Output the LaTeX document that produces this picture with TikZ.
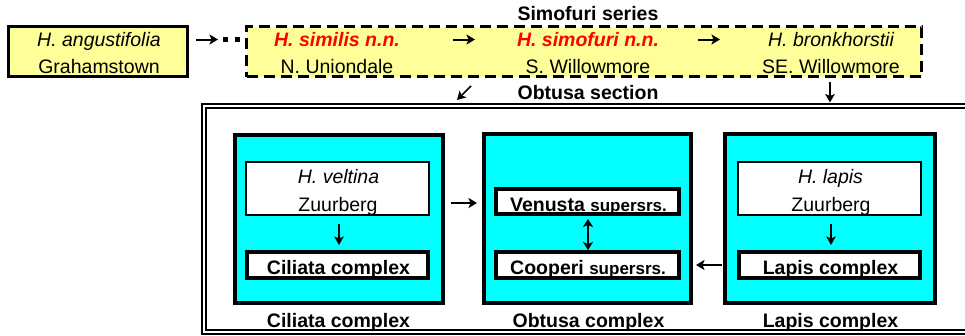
\documentclass[tikz,border=0pt]{standalone}
\usepackage{fontspec}
\setmainfont{Liberation Sans}
\usetikzlibrary{arrows.meta}
\definecolor{paleyellow}{HTML}{FFFF99}
\definecolor{brightcyan}{HTML}{00FFFF}
\definecolor{brightred}{HTML}{FF0000}
\begin{document}
\begin{tikzpicture}[x=1pt,y=-1pt,
  every node/.style={inner sep=0pt, outer sep=0pt},
  tx/.style={font=\fontsize{19.5}{24}\selectfont, anchor=base},
  txi/.style={font=\fontsize{19.5}{24}\selectfont\itshape, anchor=base},
  txb/.style={font=\fontsize{19.5}{24}\selectfont\bfseries, anchor=base},
  txr/.style={font=\fontsize{19.5}{24}\selectfont\bfseries\itshape, text=brightred, anchor=base},
  ybox/.style={draw, line width=2.5pt, fill=paleyellow},
  dbox/.style={draw, line width=3pt, fill=paleyellow, dash pattern=on 11pt off 6pt},
  cbox/.style={draw, line width=4pt, fill=brightcyan},
  wbox/.style={draw, line width=1.5pt, fill=white},
  wboxb/.style={draw, line width=3.5pt, fill=white},
  frame/.style={draw, line width=2pt, double, double distance=2pt},
  arr/.style={line width=2pt, -{Stealth[length=8.5pt,width=10pt,inset=2pt]}},
  arrthin/.style={line width=1.7pt, -{Stealth[length=8.5pt,width=9.5pt,inset=2pt]}},
  arrboth/.style={line width=2pt, {Stealth[length=8pt,width=10pt,inset=2pt]}-{Stealth[length=8pt,width=10pt,inset=2pt]}},
  dotline/.style={line width=5pt, dash pattern=on 5pt off 7pt}
]
\useasboundingbox (0,0) rectangle (965,335);
\clip (0,0) rectangle (965,335);

% top row
\node[ybox, minimum width=179pt, minimum height=50pt] (ang) at (98,51.5) {};
\node[txi] (angA) at (99,46.5) {H. angustifolia};
\node[tx] (angB) at (99,73.5) {Grahamstown};

\node[dbox, minimum width=675pt, minimum height=50pt] (ser) at (584,51.5) {};
\node[txr] (simA) at (337,46.5) {H. similis n.n.};
\node[tx] (simB) at (337,73.5) {N. Uniondale};
\node[txr] (simoA) at (588,46.5) {H. simofuri n.n.};
\node[tx] (simoB) at (588,73.5) {S. Willowmore};
\node[txi] (bronA) at (831,46.5) {H. bronkhorstii};
\node[tx] (bronB) at (831,73.5) {SE. Willowmore};

\node[txb] (sertitle) at (588,20) {Simofuri series};
\node[txb] (secttitle) at (588,99.5) {Obtusa section};

% arrows top row
\coordinate (a1) at (196,39.5);
\coordinate (a2) at (218,39.5);
\coordinate (a3) at (223,39.5);
\draw[arr] (a1) -- (a2);
\draw[dotline] (a3) -- (ser.west |- a3);
\coordinate (b1) at (453,39.5);
\coordinate (b2) at (475,39.5);
\draw[arr] (b1) -- (b2);
\coordinate (c1) at (698,39.5);
\coordinate (c2) at (720,39.5);
\draw[arr] (c1) -- (c2);

% section frame
\node[frame, minimum width=786pt, minimum height=225.5pt] (sect) at (597,218.75) {};

\coordinate (d1) at (471,86);
\coordinate (d2) at (457,100);
\draw[arrthin] (d1) -- (d2);
\coordinate (e1) at (830,82);
\coordinate (e2) at (830,102.5);
\draw[arrthin] (e1) -- (e2);

% cyan complexes
\node[cbox, minimum width=208pt, minimum height=168pt] (cil) at (339,219) {};
\node[cbox, minimum width=207pt, minimum height=169pt] (obt) at (587.5,218.5) {};
\node[cbox, minimum width=210pt, minimum height=169pt] (lap) at (830,218.5) {};

% Ciliata
\node[wbox, minimum width=183pt, minimum height=53pt] (vel) at (337.5,188.5) {};
\node[txi] (velA) at (338.5,183) {H. veltina};
\node[tx] (velB) at (338,211) {Zuurberg};
\node[wboxb, minimum width=181pt, minimum height=26pt] (cilc) at (337.5,265) {};
\node[txb] (cilcT) at (338.5,274) {Ciliata complex};
\node[txb] (cilL) at (338.5,327) {Ciliata complex};
\draw[arrthin, shorten <=9pt, shorten >=7pt] (vel.south -| 339,0) -- (cilc.north -| 339,0);

% Obtusa
\node[wboxb, minimum width=183pt, minimum height=25pt] (ven) at (587.5,201.5) {};
\node[txb] (venT) at (588.5,211) {Venusta {\fontsize{17}{20}\selectfont supersrs.}};
\node[wboxb, minimum width=183pt, minimum height=26pt] (coo) at (587.5,265) {};
\node[txb] (cooT) at (588,274) {Cooperi {\fontsize{17}{20}\selectfont supersrs.}};
\node[txb] (obtL) at (588.5,327) {Obtusa complex};
\draw[arrboth, shorten <=5pt, shorten >=2pt] (ven.south -| 588,0) -- (coo.north -| 588,0);

% Lapis
\node[wbox, minimum width=183pt, minimum height=53pt] (lapA) at (829.5,188.5) {};
\node[txi] (lapAT) at (830.5,183) {H. lapis};
\node[tx] (lapAB) at (831,211) {Zuurberg};
\node[wboxb, minimum width=181pt, minimum height=26pt] (lapc) at (829.5,265) {};
\node[txb] (lapcT) at (830.5,274) {Lapis complex};
\node[txb] (lapL) at (830.5,327) {Lapis complex};
\draw[arrthin, shorten <=9pt, shorten >=7pt] (lapA.south -| 831,0) -- (lapc.north -| 831,0);

% between complexes
\draw[arr, shorten <=8pt, shorten >=7pt] (cil.east |- 0,203) -- (obt.west |- 0,203);
\draw[arr, shorten <=17pt, shorten >=17pt] (lapc.west) -- (coo.east);
\end{tikzpicture}
\end{document}
